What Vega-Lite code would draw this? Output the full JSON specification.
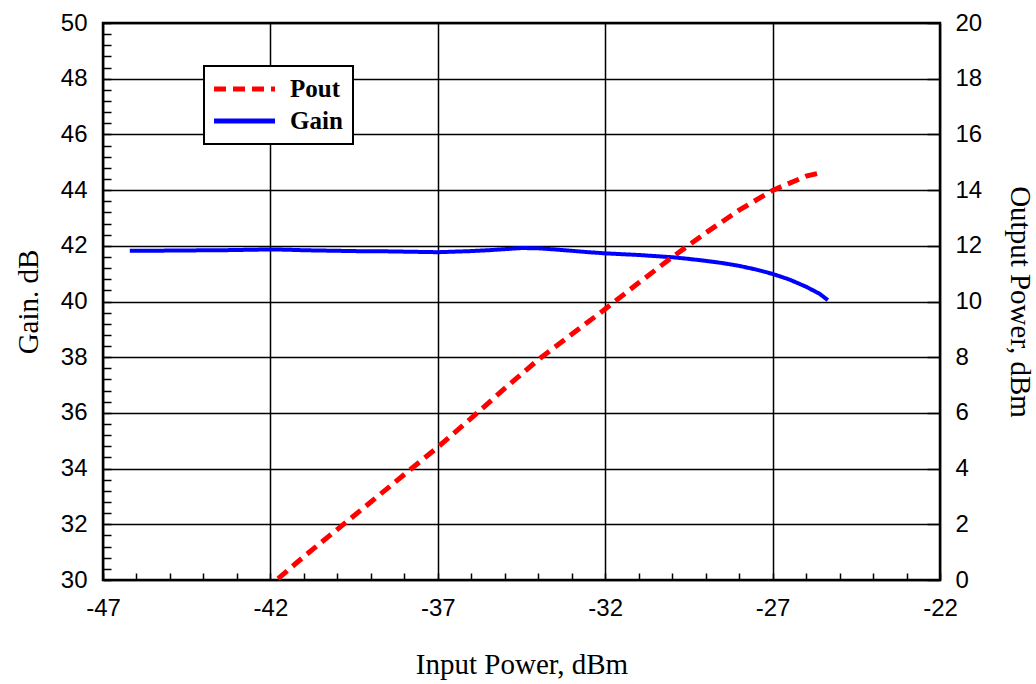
{
  "$schema": "https://vega.github.io/schema/vega-lite/v6.json",
  "width": 837,
  "height": 557,
  "autosize": {"type": "none"},
  "padding": {"left": 103, "top": 23, "right": 96, "bottom": 104},
  "background": "white",
  "config": {
    "view": {"stroke": "black", "strokeWidth": 2.5},
    "axis": {
      "domain": false,
      "gridColor": "black",
      "gridWidth": 1.5,
      "gridOpacity": 1,
      "tickColor": "black",
      "tickWidth": 1.5,
      "labelFont": "Liberation Sans",
      "labelFontSize": 24,
      "labelColor": "black",
      "titleFont": "Liberation Serif",
      "titleFontSize": 29,
      "titleFontWeight": "normal",
      "titleColor": "black"
    },
    "legend": {
      "orient": "none",
      "legendX": 101,
      "legendY": 43,
      "fillColor": "white",
      "strokeColor": "black",
      "strokeWidth": 2,
      "padding": 10,
      "symbolType": "M-3,0H3",
      "symbolSize": 413,
      "symbolStrokeWidth": 5,
      "labelFont": "Liberation Serif",
      "labelFontWeight": "bold",
      "labelFontSize": 25,
      "labelColor": "black",
      "labelOffset": 50,
      "rowPadding": 6
    }
  },
  "data": {
    "values": [
      {"series": "Gain", "pin": -46.2, "value": 41.82},
      {"series": "Gain", "pin": -45.5, "value": 41.82},
      {"series": "Gain", "pin": -45.0, "value": 41.83},
      {"series": "Gain", "pin": -44.5, "value": 41.83},
      {"series": "Gain", "pin": -44.0, "value": 41.84},
      {"series": "Gain", "pin": -43.5, "value": 41.84},
      {"series": "Gain", "pin": -43.0, "value": 41.85},
      {"series": "Gain", "pin": -42.5, "value": 41.86},
      {"series": "Gain", "pin": -42.0, "value": 41.87},
      {"series": "Gain", "pin": -41.5, "value": 41.86},
      {"series": "Gain", "pin": -41.0, "value": 41.84},
      {"series": "Gain", "pin": -40.5, "value": 41.83},
      {"series": "Gain", "pin": -40.0, "value": 41.82},
      {"series": "Gain", "pin": -39.5, "value": 41.81},
      {"series": "Gain", "pin": -39.0, "value": 41.8},
      {"series": "Gain", "pin": -38.5, "value": 41.8},
      {"series": "Gain", "pin": -38.0, "value": 41.79},
      {"series": "Gain", "pin": -37.5, "value": 41.78},
      {"series": "Gain", "pin": -37.0, "value": 41.77},
      {"series": "Gain", "pin": -36.5, "value": 41.79},
      {"series": "Gain", "pin": -36.0, "value": 41.81},
      {"series": "Gain", "pin": -35.5, "value": 41.84},
      {"series": "Gain", "pin": -35.0, "value": 41.88},
      {"series": "Gain", "pin": -34.5, "value": 41.92},
      {"series": "Gain", "pin": -34.0, "value": 41.91},
      {"series": "Gain", "pin": -33.5, "value": 41.87},
      {"series": "Gain", "pin": -33.0, "value": 41.82},
      {"series": "Gain", "pin": -32.5, "value": 41.77},
      {"series": "Gain", "pin": -32.0, "value": 41.73},
      {"series": "Gain", "pin": -31.5, "value": 41.7},
      {"series": "Gain", "pin": -31.0, "value": 41.67},
      {"series": "Gain", "pin": -30.5, "value": 41.63},
      {"series": "Gain", "pin": -30.0, "value": 41.59},
      {"series": "Gain", "pin": -29.5, "value": 41.53},
      {"series": "Gain", "pin": -29.0, "value": 41.46},
      {"series": "Gain", "pin": -28.5, "value": 41.38},
      {"series": "Gain", "pin": -28.0, "value": 41.28},
      {"series": "Gain", "pin": -27.5, "value": 41.15},
      {"series": "Gain", "pin": -27.0, "value": 40.99},
      {"series": "Gain", "pin": -26.5, "value": 40.79},
      {"series": "Gain", "pin": -26.0, "value": 40.53},
      {"series": "Gain", "pin": -25.6, "value": 40.28},
      {"series": "Gain", "pin": -25.35, "value": 40.05},
      {"series": "Pout", "pin": -41.77, "value": 0.05},
      {"series": "Pout", "pin": -41.0, "value": 0.84},
      {"series": "Pout", "pin": -40.0, "value": 1.82},
      {"series": "Pout", "pin": -39.0, "value": 2.8},
      {"series": "Pout", "pin": -38.0, "value": 3.79},
      {"series": "Pout", "pin": -37.0, "value": 4.77},
      {"series": "Pout", "pin": -36.0, "value": 5.81},
      {"series": "Pout", "pin": -35.0, "value": 6.88},
      {"series": "Pout", "pin": -34.0, "value": 7.91},
      {"series": "Pout", "pin": -33.0, "value": 8.82},
      {"series": "Pout", "pin": -32.0, "value": 9.73},
      {"series": "Pout", "pin": -31.0, "value": 10.67},
      {"series": "Pout", "pin": -30.0, "value": 11.59},
      {"series": "Pout", "pin": -29.0, "value": 12.46},
      {"series": "Pout", "pin": -28.0, "value": 13.28},
      {"series": "Pout", "pin": -27.0, "value": 13.99},
      {"series": "Pout", "pin": -26.0, "value": 14.5},
      {"series": "Pout", "pin": -25.58, "value": 14.62}
    ]
  },
  "layer": [
    {
      "transform": [{"filter": "datum.series == 'Gain'"}],
      "mark": {"type": "line", "strokeWidth": 4},
      "encoding": {
        "x": {
          "field": "pin",
          "type": "quantitative",
          "scale": {"domain": [-47, -22], "nice": false, "zero": false},
          "axis": {
            "title": "Input Power, dBm",
            "values": [-47,-46,-45,-44,-43,-42,-41,-40,-39,-38,-37,-36,-35,-34,-33,-32,-31,-30,-29,-28,-27,-26,-25,-24,-23,-22],
            "tickCount": 500,
            "labelExpr": "(datum.value + 47) % 5 == 0 ? '' + datum.value : ''",
            "gridOpacity": {"condition": {"test": "(datum.value + 47) % 5 == 0", "value": 1}, "value": 0},
            "tickSize": -7,
            "labelPadding": 23,
            "labelFlush": false,
            "labelOverlap": false,
            "titlePadding": 30
          }
        },
        "y": {
          "field": "value",
          "type": "quantitative",
          "scale": {"domain": [30, 50], "nice": false, "zero": false},
          "axis": {
            "title": "Gain. dB",
            "values": [30,30.4,30.8,31.2,31.6,32,32.4,32.8,33.2,33.6,34,34.4,34.8,35.2,35.6,36,36.4,36.8,37.2,37.6,38,38.4,38.8,39.2,39.6,40,40.4,40.8,41.2,41.6,42,42.4,42.8,43.2,43.6,44,44.4,44.8,45.2,45.6,46,46.4,46.8,47.2,47.6,48,48.4,48.8,49.2,49.6,50],
            "tickCount": 500,
            "labelExpr": "abs(datum.value / 2 - round(datum.value / 2)) < 0.01 ? '' + datum.value : ''",
            "gridOpacity": {"condition": {"test": "abs(datum.value / 2 - round(datum.value / 2)) < 0.01", "value": 1}, "value": 0},
            "tickSize": -8,
            "labelPadding": 24,
            "labelFlush": false,
            "labelOverlap": false,
            "titlePadding": 17
          }
        },
        "color": {
          "field": "series",
          "type": "nominal",
          "scale": {"domain": ["Pout", "Gain"], "range": ["#ff0000", "#0000ff"]},
          "legend": {
            "title": null,
            "encode": {"symbols": {"update": {"x": {"value": 30.5}}}}
          }
        },
        "strokeDash": {
          "field": "series",
          "type": "nominal",
          "scale": {"domain": ["Pout", "Gain"], "range": [[12, 7], [1, 0]]},
          "legend": {
            "title": null,
            "encode": {"symbols": {"update": {"x": {"value": 30.5}}}}
          }
        }
      }
    },
    {
      "transform": [{"filter": "datum.series == 'Pout'"}],
      "mark": {"type": "line", "strokeWidth": 5},
      "encoding": {
        "x": {"field": "pin", "type": "quantitative"},
        "y": {
          "field": "value",
          "type": "quantitative",
          "scale": {"domain": [0, 20], "nice": false, "zero": false},
          "axis": {
            "orient": "right",
            "title": "Output Power, dBm",
            "values": [0,2,4,6,8,10,12,14,16,18,20],
            "tickCount": 500,
            "labelExpr": "'' + datum.value",
            "grid": false,
            "tickSize": -13,
            "labelPadding": 28,
            "labelFlush": false,
            "labelOverlap": false,
            "titlePadding": 23
          }
        },
        "color": {"field": "series", "type": "nominal", "legend": {"title": null}},
        "strokeDash": {"field": "series", "type": "nominal", "legend": {"title": null}}
      }
    }
  ],
  "resolve": {"scale": {"y": "independent"}}
}
